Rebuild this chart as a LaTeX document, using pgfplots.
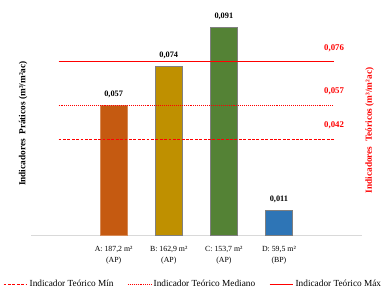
\documentclass[border=0pt]{standalone}
\usepackage{pgfplots}
\pgfplotsset{compat=1.18}
\usepackage{fontspec}
\setmainfont{Liberation Serif}
\definecolor{cA}{HTML}{C55A11}
\definecolor{cB}{HTML}{BF9000}
\definecolor{cC}{HTML}{548235}
\definecolor{cD}{HTML}{2E75B6}
\definecolor{tred}{RGB}{255,0,0}
\begin{document}
\begin{tikzpicture}
\begin{axis}[
  scale only axis, width=337bp, height=240bp,
  xmin=-1.5, xmax=4.5, ymin=0, ymax=0.1029,
  axis y line=none, axis x line*=bottom,
  x axis line style={draw=black!15, -},
  xtick={0,1,2,3},
  xticklabels={{A: 187,2 m²\\(AP)},{B: 162,9 m²\\(AP)},{C: 153,7 m²\\(AP)},{D: 59,5 m²\\(BP)}},
  xticklabel style={align=center, font=\fontsize{8}{11}\selectfont, yshift=-8bp},
  major tick length=0pt,
  /pgf/number format/.cd, fixed, fixed zerofill, precision=3, use comma, assume math mode=true,
  /pgfplots/.cd,
  nodes near coords style={font=\bfseries\fontsize{8.5}{10}\selectfont, anchor=south, inner sep=0pt, yshift=7bp},
  legend style={at={(0.49,-0.208)}, anchor=center, draw=none, legend columns=3,
    font=\fontsize{9.5}{11}\selectfont,
    /tikz/every even column/.append style={column sep=12bp}},
  legend cell align=left,
  legend image code/.code={\draw[#1,mark=none] (0bp,0bp) -- (24bp,0bp);},
  clip=false,
]
\addplot[ybar, bar width=28bp, bar shift=0pt, fill=cA, draw=cA!70!white, nodes near coords, forget plot] coordinates {(0,0.057)};
\addplot[ybar, bar width=28bp, bar shift=0pt, fill=cB, draw=black!50, nodes near coords, forget plot] coordinates {(1,0.074)};
\addplot[ybar, bar width=28bp, bar shift=0pt, fill=cC, draw=black!50, nodes near coords, forget plot] coordinates {(2,0.091)};
\addplot[ybar, bar width=28bp, bar shift=0pt, fill=cD, draw=black!50, nodes near coords, forget plot] coordinates {(3,0.011)};
\addplot[red, line width=1.3pt, dash pattern=on 3pt off 1.5pt, mark=*, mark size=0pt, mark options={solid}] coordinates {(-1,0.042) (4,0.042)};
\addlegendentry{Indicador Teórico Mín}
\addplot[red, line width=0.9pt, dash pattern=on 0.9pt off 1.1pt, mark=*, mark size=0pt, mark options={solid}] coordinates {(-1,0.057) (4,0.057)};
\addlegendentry{Indicador Teórico Mediano}
\addplot[red, line width=1.3pt, mark=*, mark size=0pt] coordinates {(-1,0.076) (4,0.076)};
\addlegendentry{Indicador Teórico Máx}
\path (rel axis cs:0,1) -- (rel axis cs:1,1);
\node[tred, font=\bfseries\fontsize{9}{10}\selectfont, anchor=center, yshift=14bp] at (axis cs:4,0.076) {0,076};
\node[tred, font=\bfseries\fontsize{9}{10}\selectfont, anchor=center, yshift=14bp] at (axis cs:4,0.057) {0,057};
\node[tred, font=\bfseries\fontsize{9}{10}\selectfont, anchor=center, yshift=14bp] at (axis cs:4,0.042) {0,042};
\node[rotate=90, font=\bfseries\fontsize{9.5}{10}\selectfont] at (rel axis cs:-0.024,0.475) {Indicadores\ \ Práticos (m³/m²ac)};
\node[rotate=90, tred, font=\bfseries\fontsize{9.5}{10}\selectfont] at (rel axis cs:1.024,0.446) {Indicadores\ \ Teóricos (m³/m²ac)};
\end{axis}
\end{tikzpicture}
\end{document}
